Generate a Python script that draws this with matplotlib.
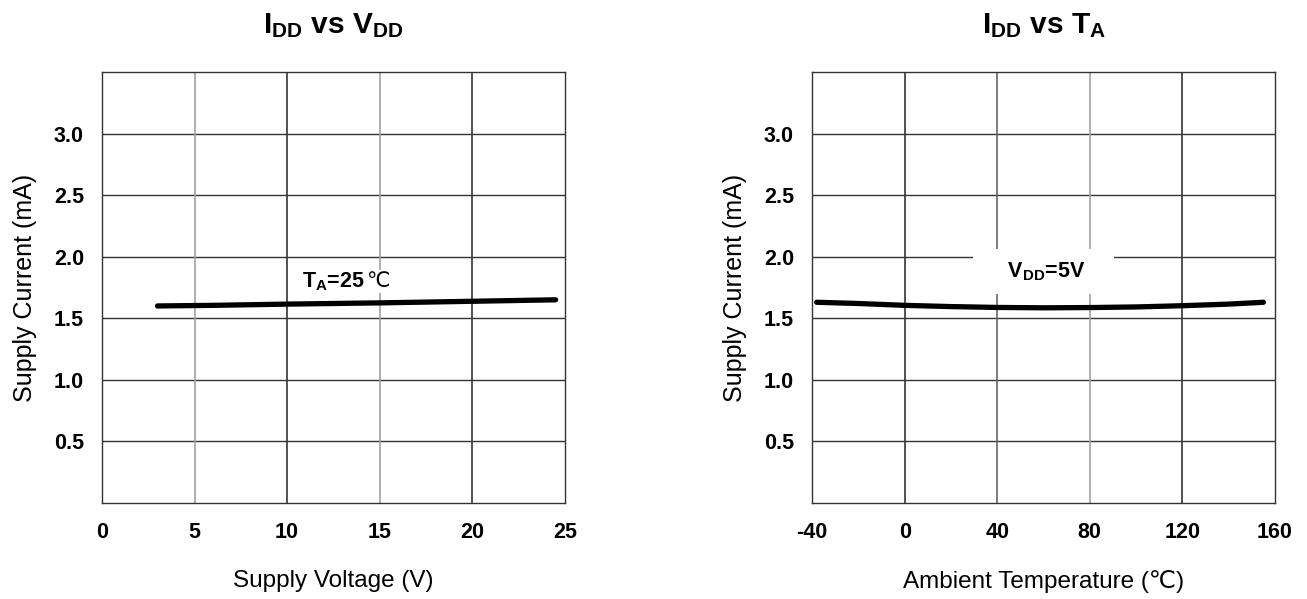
import matplotlib
matplotlib.use('Agg')
import matplotlib.pyplot as plt
import numpy as np

plt.rcParams['font.family'] = ['Liberation Sans', 'DejaVu Sans']
plt.rcParams['mathtext.fontset'] = 'custom'
plt.rcParams['mathtext.rm'] = 'Liberation Sans:bold'
plt.rcParams['mathtext.it'] = 'Liberation Sans:bold'
plt.rcParams['mathtext.bf'] = 'Liberation Sans:bold'

# data
vdd = [3, 6, 10, 15, 20, 24.5]
idd_v = [1.60, 1.605, 1.615, 1.625, 1.638, 1.65]

temp = [-38, -20, 0, 20, 40, 60, 80, 100, 120, 140, 155]
idd_t = [1.63, 1.62, 1.605, 1.595, 1.588, 1.585, 1.587, 1.592, 1.602, 1.615, 1.63]

yticks = [0.5, 1.0, 1.5, 2.0, 2.5, 3.0]
vticks = [0, 5, 10, 15, 20, 25]
tticks = [-40, 0, 40, 80, 120, 160]

fig = plt.figure(figsize=(13.07, 5.99), dpi=100)
ax1 = fig.add_axes([0.078, 0.1603, 0.3542, 0.7195])
ax2 = fig.add_axes([0.6213, 0.1603, 0.3542, 0.7195])

dark = '#333333'
mid = '#666666'
light = '#a0a0a0'

def setup(ax, xticks, vcolors, title, xlabel):
    ax.set_xlim(xticks[0], xticks[-1])
    ax.set_ylim(0, 3.5)
    ax.set_xticks(xticks)
    ax.set_yticks(yticks)
    ax.set_xticklabels([str(t) for t in xticks], fontsize=15.5, fontweight='bold')
    ax.set_yticklabels(['%.1f' % t for t in yticks], fontsize=15.5, fontweight='bold')
    ax.tick_params(length=0, axis='x', pad=14)
    ax.tick_params(length=0, axis='y', pad=13)
    for y in yticks:
        ax.axhline(y, color=dark, lw=1.0, zorder=1)
    for x, c in zip(xticks[1:-1], vcolors):
        ax.axvline(x, color=c, lw=1.2, zorder=1)
    for s in ax.spines.values():
        s.set_color(dark)
        s.set_linewidth(1.0)
    ax.set_title(title, fontsize=21.5, fontweight='bold', pad=28)
    ax.set_xlabel(xlabel, fontsize=17.5, labelpad=19)
    ax.set_ylabel('Supply Current (mA)', fontsize=18, labelpad=12)

setup(ax1, vticks, [light, dark, light, dark], r'$I_{DD}$ vs $V_{DD}$', 'Supply Voltage (V)')
setup(ax2, tticks, [dark, mid, light, dark], r'$I_{DD}$ vs $T_A$', 'Ambient Temperature (℃)')

ax1.plot(vdd, idd_v, color='black', lw=3.8, solid_capstyle='round', zorder=3)
ax2.plot(temp, idd_t, color='black', lw=3.8, solid_capstyle='round', zorder=3)

ax1.text(14.2, 1.8, r'$T_A$=25', fontsize=15.5, fontweight='bold', ha='right', va='center',
         zorder=4, bbox=dict(facecolor='white', edgecolor='none', pad=1))
ax1.text(14.25, 1.8, '℃', fontsize=15, family='DejaVu Sans', ha='left', va='center',
         zorder=4, bbox=dict(facecolor='white', edgecolor='none', pad=1))
ax2.text(60, 1.88, r'    $V_{DD}$=5V    ', fontsize=15.5, fontweight='bold', ha='center',
         va='center', zorder=4,
         bbox=dict(facecolor='white', edgecolor='none', boxstyle='square,pad=0.5'))

fig.savefig('out.png', dpi=100)
